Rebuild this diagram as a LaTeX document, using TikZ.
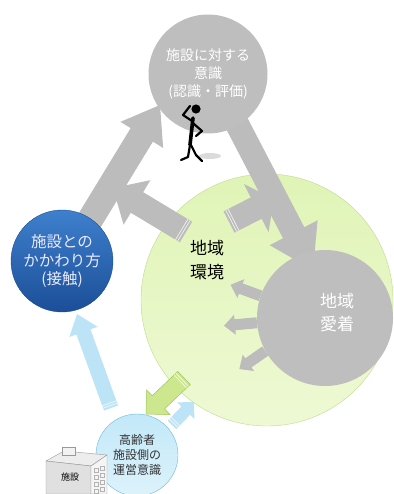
\documentclass[tikz,border=0pt]{standalone}
\usepackage{fontspec}
\setmainfont{Noto Sans CJK JP}
\usepackage{tikz}
\usetikzlibrary{calc}

\definecolor{circlegrey}{RGB}{190,190,190}
\definecolor{arrowgrey}{RGB}{188,188,188}
\definecolor{deepblue}{RGB}{28,78,152}
\definecolor{midblue}{RGB}{62,128,204}
\definecolor{palegreen}{RGB}{224,244,182}
\definecolor{palegreenlow}{RGB}{238,249,212}
\definecolor{greenedge}{RGB}{190,218,140}
\definecolor{paleblue}{RGB}{194,232,248}
\definecolor{blueedge}{RGB}{108,184,220}
\definecolor{skyarrow}{RGB}{188,228,246}
\definecolor{limearrow}{RGB}{205,231,142}
\definecolor{limeedge}{RGB}{158,198,88}

% fat arrow: [style]{tail}{tip}{half body}{half head}{head length}
\newcommand{\blockarrow}[6][]{%
  \coordinate (arrow base) at ($(#3)!#6!(#2)$);
  \fill[#1] ($(#2)!#4!90:(#3)$) -- ($(arrow base)!#4!-90:(#2)$)
    -- ($(arrow base)!#5!-90:(#2)$) -- (#3)
    -- ($(arrow base)!#5!90:(#2)$) -- ($(arrow base)!#4!90:(#2)$)
    -- ($(#2)!#4!-90:(#3)$) -- cycle;}

% light stripes across the tail end
\newcommand{\tailmarks}[3]{%
  \foreach \d in {2.5pt,5pt}{%
    \coordinate (mark) at ($(#1)!\d!(#2)$);
    \draw[white,line width=.7pt,opacity=.8] ($(mark)!#3!90:(#2)$) -- ($(mark)!#3!-90:(#2)$);}}

\begin{document}
\begin{tikzpicture}[x=1pt,y=-1pt,
   grey circle/.style={circle,fill=circlegrey,inner sep=0pt,text=white,align=center},
   blue circle/.style={circle,top color=midblue,bottom color=deepblue,draw=deepblue,
     inner sep=0pt,text=white!92!blue,align=center},
   green circle/.style={circle,top color=palegreen,bottom color=palegreenlow,draw=greenedge,inner sep=0pt},
   pale circle/.style={circle,top color=paleblue,bottom color=paleblue!55!white,draw=blueedge,
     inner sep=0pt,text=black!80,align=center},
   grey arrow/.style={fill=arrowgrey},
   sky arrow/.style={fill=skyarrow},
   lime arrow/.style={fill=limearrow,draw=limeedge,line width=.5pt}]
  \useasboundingbox (0,0) rectangle (393,494);

  \node[green circle,minimum size=252pt] (kankyo) at (267,300) {};

  % big grey arrows
  \coordinate (a tail) at (85,228);  \coordinate (a tip) at (160,105);
  \coordinate (b tail) at (235,120); \coordinate (b tip) at (313,270);
  \coordinate (c tail) at (186,232); \coordinate (c tip) at (113,188);
  \coordinate (d tail) at (229,222); \coordinate (d tip) at (274,199);
  \blockarrow[grey arrow]{d tail}{d tip}{12pt}{27pt}{20pt}
  \tailmarks{d tail}{d tip}{12pt}
  \blockarrow[grey arrow]{c tail}{c tip}{12pt}{26pt}{28pt}
  \tailmarks{c tail}{c tip}{12pt}
  \blockarrow[grey arrow]{a tail}{a tip}{13pt}{25pt}{35pt}
  \blockarrow[grey arrow]{b tail}{b tip}{12pt}{27pt}{42pt}

  \node[grey circle,minimum size=119pt,font=\fontsize{14}{18}\selectfont] (ishiki) at (208,74)
    {施設に対する\\意識\\(認識・評価)};
  \node[grey circle,minimum size=136pt] (aichaku) at (325,318) {};
  \node[blue circle,minimum size=102pt,font=\fontsize{15.5}{18}\selectfont] (kakawari) at (62,261)
    {施設との\\かかわり方\\(接触)};

  % small arrows out of the attachment circle
  \foreach \a/\dx/\dy in {161/-30/-11,184/-33/3,209/-26/18}{
    \coordinate (s tail) at (aichaku.\a);
    \coordinate (s tip) at ($(s tail)+(\dx,\dy)$);
    \blockarrow[grey arrow]{s tail}{s tip}{5.5pt}{10pt}{11pt}}

  % light blue and green arrows
  \coordinate (l tail) at (111,408); \coordinate (l tip) at (77,314);
  \blockarrow[sky arrow]{l tail}{l tip}{7.5pt}{15pt}{19pt}
  \tailmarks{l tail}{l tip}{7.5pt}

  \node[pale circle,minimum size=82pt,font=\fontsize{12}{15}\selectfont] (unei) at (137,455)
    {高齢者\\施設側の\\運営意識};

  \coordinate (g tail) at (184,378); \coordinate (g tip) at (146,414);
  \blockarrow[lime arrow]{g tail}{g tip}{9pt}{17pt}{17pt}
  \tailmarks{g tail}{g tip}{9pt}
  \coordinate (m tail) at (172,425); \coordinate (m tip) at (194,402);
  \blockarrow[sky arrow]{m tail}{m tip}{6pt}{12pt}{12pt}
  \tailmarks{m tail}{m tip}{6pt}

  % building
  \begin{scope}[draw=black!40,line width=.4pt]
    \filldraw[fill=black!7] (46,461) -- (64,451) -- (107,455) -- (91,466) -- cycle;
    \filldraw[fill=black!12] (46,461) -- (91,466) -- (91,494) -- (46,494) -- cycle;
    \filldraw[fill=black!4] (91,466) -- (107,455) -- (107,494) -- (91,494) -- cycle;
    \filldraw[fill=black!5] (62,447) rectangle (75,455);
    \foreach \r in {0,...,3}
      \foreach \c in {0,1}
        \draw[black!30] (94+6*\c,468+7*\r-2*\c) rectangle +(4,4);
  \end{scope}
  \node[font=\fontsize{9}{10}\selectfont] (shisetsu) at (70,477) {施設};

  % thinking figure
  \fill[black!20,opacity=.7] (210,156) ellipse (11 and 3);
  \begin{scope}[line width=2.2pt,line cap=round,line join=round]
    \fill (196,109) circle (4.6);
    \draw[line width=3.6pt] (193,118) -- (190,145);
    \draw (192,121) -- (183,115) -- (190,106);
    \draw (194,124) -- (202,131) -- (196,136);
    \draw (190,145) -- (188,157) -- (181,160);
    \draw (191,145) -- (196,155) -- (202,161);
  \end{scope}

  \node[font=\fontsize{17}{24}\selectfont,align=center] (kankyo label) at (207,260) {地域\\環境};
  \node[font=\fontsize{17}{23}\selectfont,align=center,text=white] (aichaku label) at (337,313) {地域\\愛着};
\end{tikzpicture}
\end{document}
